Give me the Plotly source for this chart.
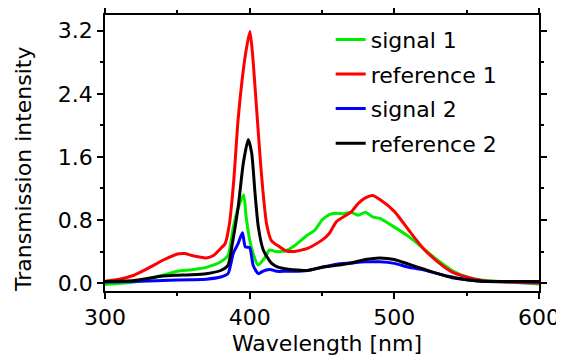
import plotly.graph_objects as go

# reference 1 (red)
ref1_x = [300, 310, 320, 330, 340, 350, 355, 360, 370, 375, 380, 383, 386, 389, 392, 395.6, 398, 400.2, 402, 403.7, 407, 409, 411.7, 415, 420.7, 425, 430, 440, 450, 455, 460, 470, 475, 480, 485, 490, 500, 510, 520, 530, 540, 550, 560, 580, 600]
ref1_y = [0.025, 0.05, 0.1, 0.19, 0.29, 0.37, 0.375, 0.35, 0.32, 0.35, 0.44, 0.5, 0.75, 1.3, 2.07, 2.7, 3.0, 3.19, 2.9, 2.49, 1.65, 1.2, 0.75, 0.54, 0.46, 0.41, 0.40, 0.44, 0.545, 0.63, 0.78, 0.9, 1.01, 1.08, 1.11, 1.06, 0.91, 0.67, 0.44, 0.27, 0.14, 0.077, 0.034, 0.013, 0.0]

# signal 1 (green)
sig1_x = [300, 320, 340, 350, 360, 370, 380, 385, 388.7, 392, 395.8, 397.5, 400, 402.5, 405.7, 410, 413.8, 418, 421, 425, 430, 440, 445, 450, 455, 460, 465, 470, 475, 480, 485, 490, 500, 510, 520, 530, 540, 550, 560, 580, 600]
sig1_y = [-0.017, 0.013, 0.1, 0.15, 0.17, 0.2, 0.27, 0.35, 0.71, 0.95, 1.12, 0.85, 0.55, 0.37, 0.23, 0.31, 0.42, 0.40, 0.40, 0.41, 0.46, 0.61, 0.67, 0.8, 0.87, 0.885, 0.88, 0.9, 0.86, 0.9, 0.84, 0.82, 0.71, 0.59, 0.44, 0.29, 0.16, 0.077, 0.04, 0.013, -0.01]

# signal 2 (blue)
sig2_x = [300, 320, 340, 360, 370, 380, 385, 388.7, 392, 395, 397, 400, 402.5, 406, 409, 412.6, 415, 418.7, 425, 430, 440, 450, 460, 470, 480, 490, 500, 510, 520, 530, 540, 550, 560, 580, 600]
sig2_y = [0.013, 0.02, 0.034, 0.043, 0.05, 0.077, 0.12, 0.38, 0.5, 0.64, 0.46, 0.45, 0.22, 0.12, 0.15, 0.17, 0.17, 0.15, 0.15, 0.15, 0.16, 0.2, 0.24, 0.255, 0.27, 0.27, 0.25, 0.2, 0.17, 0.12, 0.077, 0.043, 0.025, 0.017, 0.013]

# reference 2 (black)
ref2_x = [300, 320, 340, 350, 360, 370, 380, 385, 388, 392.1, 395.6, 399, 401.4, 403.7, 406, 409.4, 415.2, 420, 425.6, 430, 440, 450, 460, 470, 480, 490, 500, 510, 520, 530, 540, 550, 560, 580, 600]
ref2_y = [0.02, 0.034, 0.09, 0.1, 0.106, 0.12, 0.16, 0.225, 0.5, 0.97, 1.52, 1.82, 1.65, 1.14, 0.71, 0.42, 0.25, 0.2, 0.18, 0.17, 0.16, 0.2, 0.225, 0.255, 0.3, 0.32, 0.3, 0.24, 0.18, 0.12, 0.068, 0.043, 0.025, 0.02, 0.02]

series = [
    ("signal 1", sig1_x, sig1_y, "#00ee00"),
    ("reference 1", ref1_x, ref1_y, "#ff0000"),
    ("signal 2", sig2_x, sig2_y, "#0000ff"),
    ("reference 2", ref2_x, ref2_y, "#000000"),
]

x_ticks = [300, 400, 500, 600]
y_ticks = [0.0, 0.8, 1.6, 2.4, 3.2]
y_tick_labels = ["0.0", "0.8", "1.6", "2.4", "3.2"]

FONT = "DejaVu Sans, sans-serif"

fig = go.Figure()
for name, xs, ys, col in series:
    fig.add_trace(go.Scatter(
        x=xs, y=ys, mode="lines", name=name, legendgroup=name,
        line=dict(color=col, width=3, shape="spline", smoothing=0.6),
    ))

# page body has an 8px default margin; figure size/margins compensate for it
fig.update_layout(
    width=556, height=351,
    margin=dict(l=97, r=25, t=7, b=68),
    paper_bgcolor="white", plot_bgcolor="white",
    font=dict(family=FONT, size=22, color="black"),
    showlegend=True,
    legend=dict(
        x=0.52, y=0.987, xanchor="left", yanchor="top",
        bgcolor="rgba(0,0,0,0)", borderwidth=0,
        font=dict(family=FONT, size=22, color="black"),
        traceorder="grouped", tracegroupgap=3,
    ),
    xaxis=dict(
        range=[300, 600], tickvals=x_ticks, ticktext=[str(v) for v in x_ticks],
        ticks="outside", ticklen=6, tickwidth=1.5, tickcolor="black",
        showline=True, linecolor="black", linewidth=1.5, mirror="ticks",
        showgrid=False, zeroline=False, automargin=False,
        tickfont=dict(size=22),
        minor=dict(dtick=50, tick0=300, ticks="outside", ticklen=3, tickcolor="black", tickwidth=1.5, showgrid=False),
    ),
    yaxis=dict(
        range=[-0.1, 3.4], tickvals=y_ticks, ticktext=y_tick_labels,
        ticks="outside", ticklen=6, tickwidth=1.5, tickcolor="black",
        showline=True, linecolor="black", linewidth=1.5, mirror="ticks",
        showgrid=False, zeroline=False, automargin=False,
        tickfont=dict(size=22),
        minor=dict(dtick=0.4, tick0=0, ticks="outside", ticklen=3, tickcolor="black", tickwidth=1.5, showgrid=False),
    ),
    annotations=[
        dict(text="Wavelength [nm]", xref="paper", yref="paper", x=0.511, y=-0.19,
             xanchor="center", yanchor="middle", showarrow=False,
             font=dict(family=FONT, size=22, color="black")),
        dict(text="Transmission intensity", xref="paper", yref="paper", x=-0.189, y=0.442,
             xanchor="center", yanchor="middle", showarrow=False, textangle=-90,
             font=dict(family=FONT, size=22, color="black")),
    ],
)

fig.write_html("out.html")
